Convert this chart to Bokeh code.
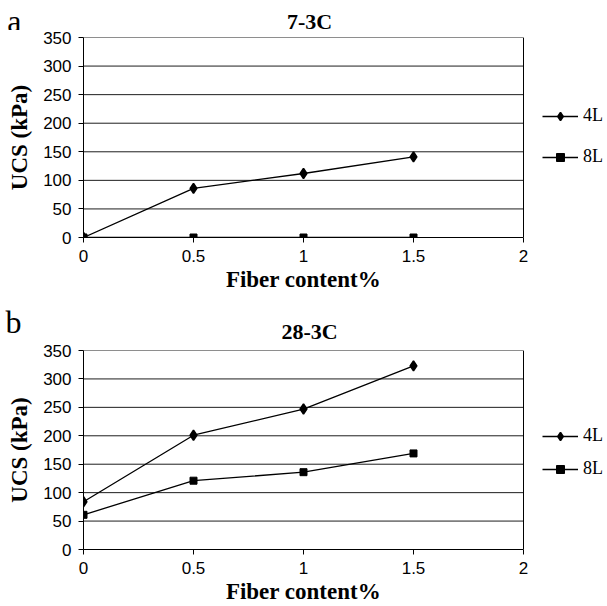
from bokeh.plotting import figure
from bokeh.layouts import column
from bokeh.models import Legend, LegendItem, Label, FixedTicker, Range1d, LinearAxis
from bokeh.embed import file_html
from bokeh.resources import INLINE

# Fiber content (%) on the x axis
fiber = [0, 0.5, 1.0, 1.5]

# UCS (kPa) after 7 days, 3 cycles
ucs_7_4L = [0, 86, 112, 141]
ucs_7_8L = [0, 0, 0, 0]

# UCS (kPa) after 28 days, 3 cycles
ucs_28_4L = [84, 201, 247, 323]
ucs_28_8L = [61, 121, 136, 169]

x_ticks = [0, 0.5, 1, 1.5, 2]
y_ticks = [0, 50, 100, 150, 200, 250, 300, 350]

SERIF = "Liberation Serif"
SANS = "Liberation Sans"
W = 607
LEFT = 83          # left border holding the y axis
PLOT_W = 440       # pixel width of the 0..2 box
X_END = x_ticks[-1] * (W - LEFT) / PLOT_W   # frame runs on to the right edge for the legend
X_MID = (x_ticks[0] + x_ticks[-1]) / 2      # the x title sits under the middle of the box


def make_header(letter, title, height, letter_y, title_y):
    """Strip above a panel: panel letter at the far left, bold panel title."""
    h = figure(width=W, height=height, x_range=Range1d(0, 1), y_range=Range1d(0, height),
               output_backend="svg", toolbar_location=None, x_axis_type=None,
               min_border_left=LEFT, min_border_right=0,
               min_border_top=0, min_border_bottom=0)
    h.outline_line_color = None
    h.grid.visible = False
    ax = h.yaxis[0]
    ax.ticker = FixedTicker(ticks=[letter_y])
    ax.major_label_overrides = {letter_y: letter}
    ax.axis_line_color = None
    ax.major_tick_line_color = None
    ax.minor_tick_line_color = None
    ax.major_label_standoff = 56
    ax.major_label_text_font = SERIF
    ax.major_label_text_font_size = "32px"
    ax.major_label_text_color = "black"
    h.add_layout(Label(x=226, y=title_y, x_units="screen", y_units="screen",
                       text=title, text_font=SERIF, text_font_style="bold",
                       text_font_size="22px", text_color="black",
                       text_align="center", text_baseline="alphabetic"))
    return h


def make_panel(y4, y8, height, top, bottom, legend_y, legend_spacing):
    p = figure(width=W, height=height,
               x_range=Range1d(0, X_END), y_range=Range1d(y_ticks[0], y_ticks[-1]),
               output_backend="svg", toolbar_location=None,
               min_border_left=LEFT, min_border_right=0,
               min_border_top=top, min_border_bottom=bottom)
    p.background_fill_color = "white"
    p.border_fill_color = "white"
    p.outline_line_color = None
    p.grid.visible = False

    # horizontal gridlines and the box, limited to the 0..2 x span
    p.segment(x0=[x_ticks[0]] * (len(y_ticks) - 1), x1=[x_ticks[-1]] * (len(y_ticks) - 1),
              y0=y_ticks[1:], y1=y_ticks[1:], line_color="#1e1e1e", line_width=1)
    p.segment(x0=[x_ticks[-1]], x1=[x_ticks[-1]], y0=[y_ticks[0]], y1=[y_ticks[-1]],
              line_color="black", line_width=1)

    p.xaxis.ticker = FixedTicker(ticks=x_ticks)
    p.yaxis.ticker = FixedTicker(ticks=y_ticks)
    p.xaxis.bounds = (x_ticks[0], x_ticks[-1])
    for ax in (p.xaxis[0], p.yaxis[0]):
        ax.axis_line_color = "black"
        ax.major_tick_line_color = "black"
        ax.major_tick_in = 0
        ax.major_tick_out = 5
        ax.minor_tick_line_color = None
        ax.major_label_text_font = SANS
        ax.major_label_text_font_size = "17px"
        ax.major_label_text_color = "black"
        ax.major_label_standoff = 7
    p.yaxis.axis_label = "UCS (kPa)"
    p.yaxis.axis_label_text_font = SERIF
    p.yaxis.axis_label_text_font_style = "bold"
    p.yaxis.axis_label_text_font_size = "23px"
    p.yaxis.axis_label_text_color = "black"
    p.yaxis.axis_label_standoff = 8
    p.xaxis.major_label_overrides = {0: "0", 0.5: "0.5", 1: "1", 1.5: "1.5", 2: "2"}

    # x title, centred under the 0..2 box rather than under the whole frame
    xt = LinearAxis(ticker=FixedTicker(ticks=[X_MID]),
                    major_label_overrides={X_MID: "Fiber content%"},
                    axis_line_color=None, major_tick_line_color=None,
                    minor_tick_line_color=None, major_tick_in=0, major_tick_out=0,
                    major_label_standoff=2,
                    major_label_text_font=SERIF, major_label_text_font_style="bold",
                    major_label_text_font_size="23px", major_label_text_color="black")
    p.add_layout(xt, "below")

    l4 = p.line(fiber, y4, line_color="black", line_width=1.3)
    m4 = p.scatter(fiber, y4, marker="diamond", size=10, fill_color="black",
                   line_color="black", line_width=1.6)
    l8 = p.line(fiber, y8, line_color="black", line_width=1.3)
    m8 = p.scatter(fiber, y8, marker="square", size=7, fill_color="black", line_color="black")

    legend = Legend(items=[LegendItem(label="4L", renderers=[l4, m4]),
                           LegendItem(label="8L", renderers=[l8, m8])],
                    location=(PLOT_W + 19, legend_y),
                    orientation="vertical",
                    glyph_width=36, glyph_height=20, label_height=20,
                    label_standoff=5, spacing=legend_spacing,
                    padding=0, margin=0,
                    border_line_color=None, background_fill_alpha=0,
                    label_text_font=SERIF, label_text_font_size="18px",
                    label_text_color="black")
    p.add_layout(legend)
    return p


ha = make_header("a", "7-3C", height=30, letter_y=14, title_y=9)
pa = make_panel(ucs_7_4L, ucs_7_8L, height=270, top=7, bottom=63,
                legend_y=70, legend_spacing=20)
hb = make_header("b", "28-3C", height=42, letter_y=27, title_y=11)
pb = make_panel(ucs_28_4L, ucs_28_8L, height=264, top=8, bottom=54,
                legend_y=70, legend_spacing=12)

page = column(ha, pa, hb, pb, spacing=0)
open("out.html", "w").write(file_html(page, INLINE))
